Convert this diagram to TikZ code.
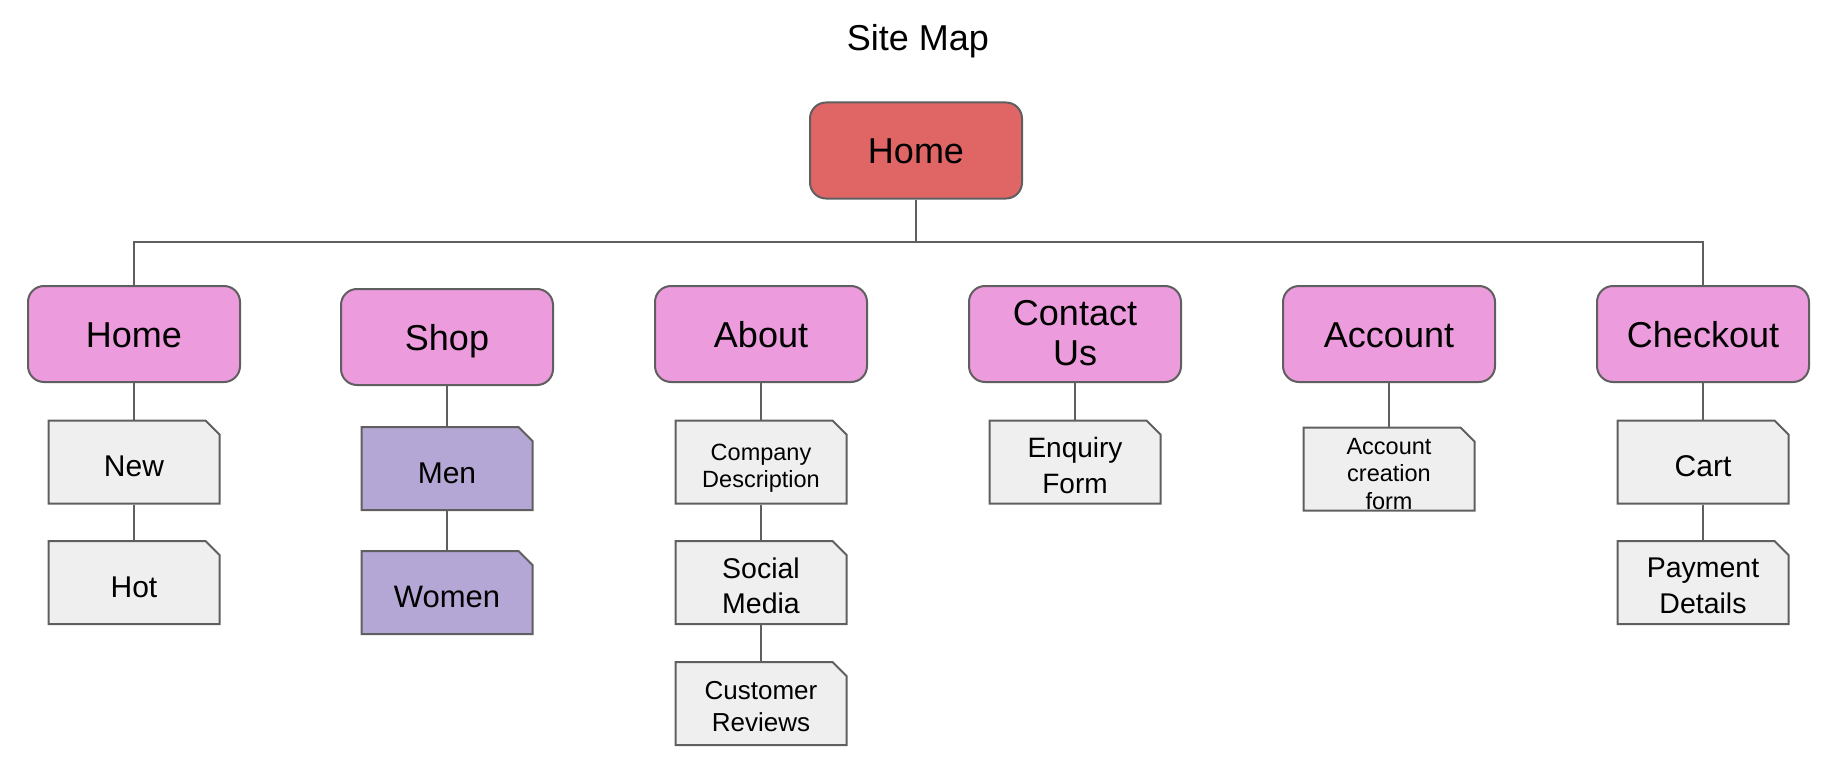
\documentclass[tikz,border=0pt]{standalone}
\usepackage{fontspec}
\setmainfont{Liberation Sans}
\usetikzlibrary{shapes.misc}
\definecolor{mapRed}{HTML}{E06666}
\definecolor{mapPink}{HTML}{EC9BDC}
\definecolor{mapLilac}{HTML}{B4A7D6}
\definecolor{mapGray}{HTML}{EFEFEF}
\definecolor{mapLine}{HTML}{5F5F5F}
\newcommand{\mapfont}[2]{\fontsize{#1}{#2}\selectfont}
\newcommand{\maplow}[1]{\raisebox{-6pt}{#1}}

\begin{document}
\begin{tikzpicture}[x=1pt,y=-1pt,
    sectionbox/.style={draw=mapLine, line width=2pt, fill=mapPink, rounded corners=16pt, minimum width=212pt, minimum height=96pt, inner sep=0pt, align=center, font=\mapfont{36}{40}},
    pagebox/.style={chamfered rectangle, chamfered rectangle corners=north east, chamfered rectangle sep=7pt, draw=mapLine, line width=2pt, fill=mapGray, minimum width=171pt, minimum height=83pt, inner sep=0pt, align=center, font=\mapfont{30}{36}},
    textbox/.style={text height=#1, text depth=0pt},
    link/.style={draw=mapLine, line width=2pt}]
    \useasboundingbox (0,0) rectangle (1843,778);
    \node [anchor=base, font=\mapfont{36}{40}] (title) at (918,51) {Site Map};
    \node [sectionbox, textbox=26pt, fill=mapRed] (root) at (916,150.5) {Home};
    \coordinate (bar) at (916,242);
    \node [sectionbox, textbox=26pt] (home) at (134,334) {Home};
    \node [sectionbox, textbox=26pt] (shop) at (447,337) {Shop};
    \node [sectionbox, textbox=26pt] (about) at (761,334) {About};
    \node [sectionbox, textbox=63pt] (contact) at (1075,334) {Contact\\Us};
    \node [sectionbox, textbox=26pt] (account) at (1389,334) {Account};
    \node [sectionbox, textbox=26pt] (checkout) at (1703,334) {Checkout};
    \node [pagebox, textbox=29pt] (new) at (134,462) {New};
    \node [pagebox, textbox=29pt] (hot) at (134,582.5) {Hot};
    \node [pagebox, textbox=29pt, fill=mapLilac] (men) at (447,468.5) {Men};
    \node [pagebox, textbox=29pt, fill=mapLilac, font=\mapfont{31}{36}] (women) at (447,592.5) {Women};
    \node [pagebox, textbox=50pt, font=\mapfont{23.5}{27}] (company) at (761,462) {Company\\Description};
    \node [pagebox, textbox=61pt, font=\mapfont{28.5}{35}] (social) at (761,582.5) {Social\\Media};
    \node [pagebox, textbox=56pt, font=\mapfont{26}{32}] (reviews) at (761,703.5) {Customer\\Reviews};
    \node [pagebox, textbox=63pt, font=\mapfont{28}{36}] (enquiry) at (1075,462) {Enquiry\\Form};
    \node [pagebox, textbox=68pt, font=\mapfont{23.5}{27.5}] (creation) at (1389,469) {\maplow{Account}\\\maplow{creation}\\\maplow{form}};
    \node [pagebox, textbox=29pt] (cart) at (1703,462) {Cart};
    \node [pagebox, textbox=61pt, font=\mapfont{28.5}{36}] (payment) at (1703,582.5) {Payment\\Details};
    \draw [link] (root.south) -- (bar);
    \draw [link] (home.north) |- (bar) -| (checkout.north);
    \draw [link] (home.south) -- (new.north);
    \draw [link] (new.south) -- (hot.north);
    \draw [link] (shop.south) -- (men.north);
    \draw [link] (men.south) -- (women.north);
    \draw [link] (about.south) -- (company.north);
    \draw [link] (company.south) -- (social.north);
    \draw [link] (social.south) -- (reviews.north);
    \draw [link] (contact.south) -- (enquiry.north);
    \draw [link] (account.south) -- (creation.north);
    \draw [link] (checkout.south) -- (cart.north);
    \draw [link] (cart.south) -- (payment.north);
\end{tikzpicture}
\end{document}
